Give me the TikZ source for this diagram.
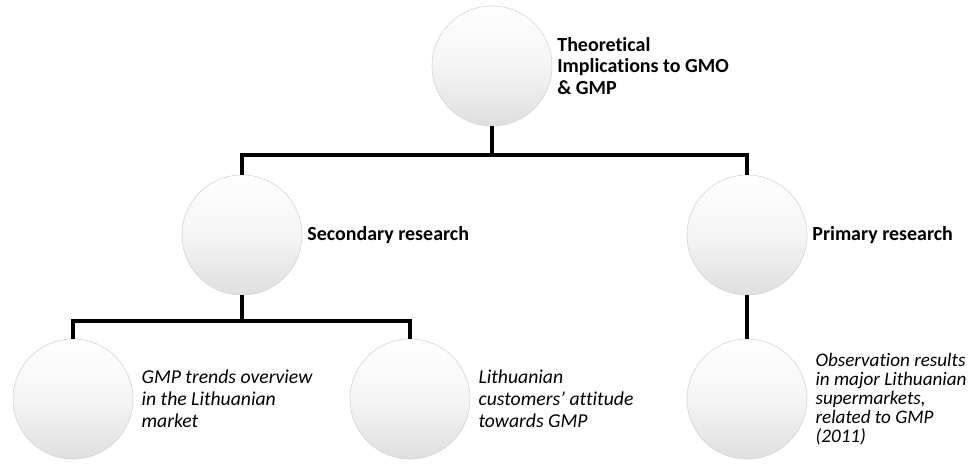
\documentclass[tikz,border=0pt]{standalone}
\usepackage{fontspec}
\setmainfont[Ligatures=NoCommon]{Carlito}
\usetikzlibrary{positioning}
\begin{document}
\begin{tikzpicture}[x=0.025cm, y=-0.025cm,
  bubble/.style={circle, minimum size=3cm, inner sep=0pt, draw=gray!35, line width=0.4pt,
    top color=white, bottom color=gray!25, middle color=gray!8},
  head/.style={right=0.12cm of #1, inner sep=0pt, align=left, font=\fontsize{14.2}{15.2}\selectfont\bfseries},
  leaf/.style={right=0.2cm of #1, inner sep=0pt, align=left, font=\fontsize{14}{15.8}\selectfont\itshape},
  link/.style={line width=2.8pt}]
  \useasboundingbox (0,0) rectangle (973,465);
  % Nodes
  \node[bubble] (top) at (492,66) {};
  \node[bubble] (sec) at (242,235) {};
  \node[bubble] (prim) at (747,235) {};
  \node[bubble] (trend) at (73,399) {};
  \node[bubble] (attit) at (410,399) {};
  \node[bubble] (obs) at (747,399) {};

  % Labels
  \node[head=top] (topT) {Theoretical\\Implications to GMO\\\& GMP};
  \node[head=sec] (secT) {Secondary research};
  \node[head=prim] (primT) {Primary research};
  \node[leaf=trend] (trendT) {GMP trends overview\\in the Lithuanian\\market};
  \node[leaf=attit] (attitT) {Lithuanian\\customers’ attitude\\towards GMP};
  \node[leaf=obs, font=\fontsize{13.6}{13.4}\selectfont\itshape] (obsT) {Observation results\\in major Lithuanian\\supermarkets,\\related to GMP\\(2011)};

  % Edges
  \foreach \a/\b/\d in {top/sec/29, top/prim/29, sec/trend/26, sec/attit/26}
    \draw[link] (\a.south) -- ++(0,\d) -| (\b.north);
  \draw[link] (prim.south) -- (obs.north);
\end{tikzpicture}
\end{document}
